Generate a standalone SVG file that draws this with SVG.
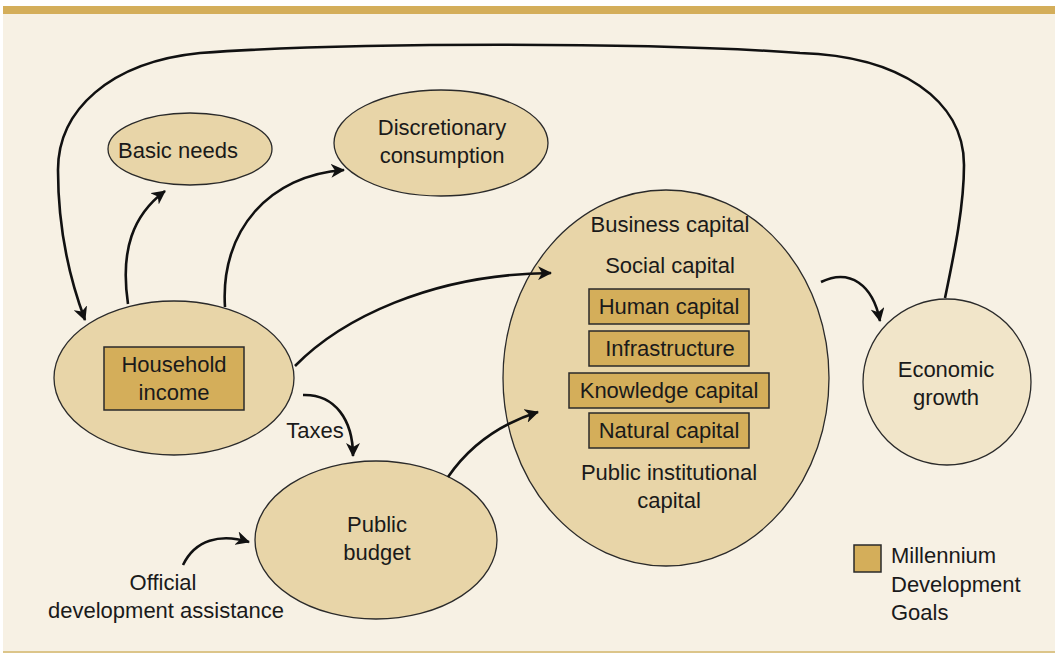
<svg xmlns="http://www.w3.org/2000/svg" width="1055" height="654" viewBox="0 0 1055 654">
<style>
.bg{fill:#f7f1e4}
.node{fill:#e8d5a8;stroke:#2a2a2a;stroke-width:1.3}
.light{fill:#f1e5c9;stroke:#2a2a2a;stroke-width:1.3}
.box{fill:#d4ae5a;stroke:#2a2a2a;stroke-width:1.5}
.t{font-family:"Liberation Sans",Arial,sans-serif;font-size:22px;fill:#1a1a1a;text-anchor:middle}
.tl{font-family:"Liberation Sans",Arial,sans-serif;font-size:22px;fill:#1a1a1a}
.c{fill:none;stroke:#111;stroke-width:2.6;marker-end:url(#ah)}
</style>
<defs>
<marker id="ah" markerUnits="userSpaceOnUse" markerWidth="16" markerHeight="14" refX="13" refY="7" orient="auto">
<path d="M0,0 L14,7 L0,14 L4,7 z" fill="#111"/>
</marker>
</defs>
<rect x="0" y="0" width="1055" height="654" fill="#ffffff"/>
<rect class="bg" x="3" y="13" width="1052" height="639"/>
<rect x="3" y="6" width="1052" height="8" fill="#d4ae5a"/>
<rect x="3" y="651" width="1052" height="2" fill="#dcc58a"/>

<g id="household-income">
<ellipse class="node" cx="174" cy="378" rx="120" ry="77"/>
<rect class="box" x="104" y="347" width="140" height="63"/>
<text class="t" x="174" y="372">Household</text>
<text class="t" x="174" y="400">income</text>
</g>

<g id="basic-needs">
<ellipse class="node" cx="190" cy="149" rx="82" ry="36"/>
<text class="t" x="178" y="158">Basic needs</text>
</g>

<g id="discretionary-consumption">
<ellipse class="node" cx="441" cy="143" rx="107" ry="53"/>
<text class="t" x="442" y="135">Discretionary</text>
<text class="t" x="442" y="163">consumption</text>
</g>

<g id="capital">
<ellipse class="node" cx="666" cy="378" rx="163" ry="188"/>
<text class="t" x="670" y="232">Business capital</text>
<text class="t" x="670" y="273">Social capital</text>
<rect class="box" x="589" y="289" width="160" height="35"/>
<text class="t" x="669" y="314">Human capital</text>
<rect class="box" x="589" y="331" width="160" height="35"/>
<text class="t" x="670" y="356">Infrastructure</text>
<rect class="box" x="569" y="373" width="200" height="35"/>
<text class="t" x="669" y="398">Knowledge capital</text>
<rect class="box" x="589" y="413" width="160" height="35"/>
<text class="t" x="669" y="438">Natural capital</text>
<text class="t" x="669" y="480">Public institutional</text>
<text class="t" x="669" y="508">capital</text>
</g>

<g id="economic-growth">
<ellipse class="light" cx="947" cy="382" rx="84" ry="83"/>
<text class="t" x="946" y="377">Economic</text>
<text class="t" x="946" y="405">growth</text>
</g>

<g id="public-budget">
<ellipse class="node" cx="376" cy="540" rx="121" ry="79"/>
<text class="t" x="377" y="532">Public</text>
<text class="t" x="377" y="560">budget</text>
</g>

<g id="taxes-label">
<text class="t" x="315" y="438">Taxes</text>
</g>

<g id="oda">
<text class="t" x="163" y="590">Official</text>
<text class="t" x="166" y="618">development assistance</text>
</g>

<g id="legend">
<rect class="box" x="854" y="545" width="27" height="27"/>
<text class="tl" x="891" y="563">Millennium</text>
<text class="tl" x="891" y="592">Development</text>
<text class="tl" x="891" y="620">Goals</text>
</g>

<g id="connectors">
<path class="c" d="M945,298 C955,250 964,205 964,165 C964,100 900,56 800,53 C650,42 350,42 200,53 C110,62 58,110 58,170 C58,230 70,280 85,320"/>
<path class="c" d="M128,304 C120,250 133,215 165,191"/>
<path class="c" d="M225,307 C220,230 270,175 344,170"/>
<path class="c" d="M295,366 C340,320 430,274 551,273"/>
<path class="c" d="M303,395 C335,394 353,420 353,456"/>
<path class="c" d="M448,477 C470,445 500,424 538,412"/>
<path class="c" d="M821,282 C850,268 873,285 880,321"/>
<path class="c" d="M183,565 C195,540 220,533 249,542"/>
</g>
</svg>
